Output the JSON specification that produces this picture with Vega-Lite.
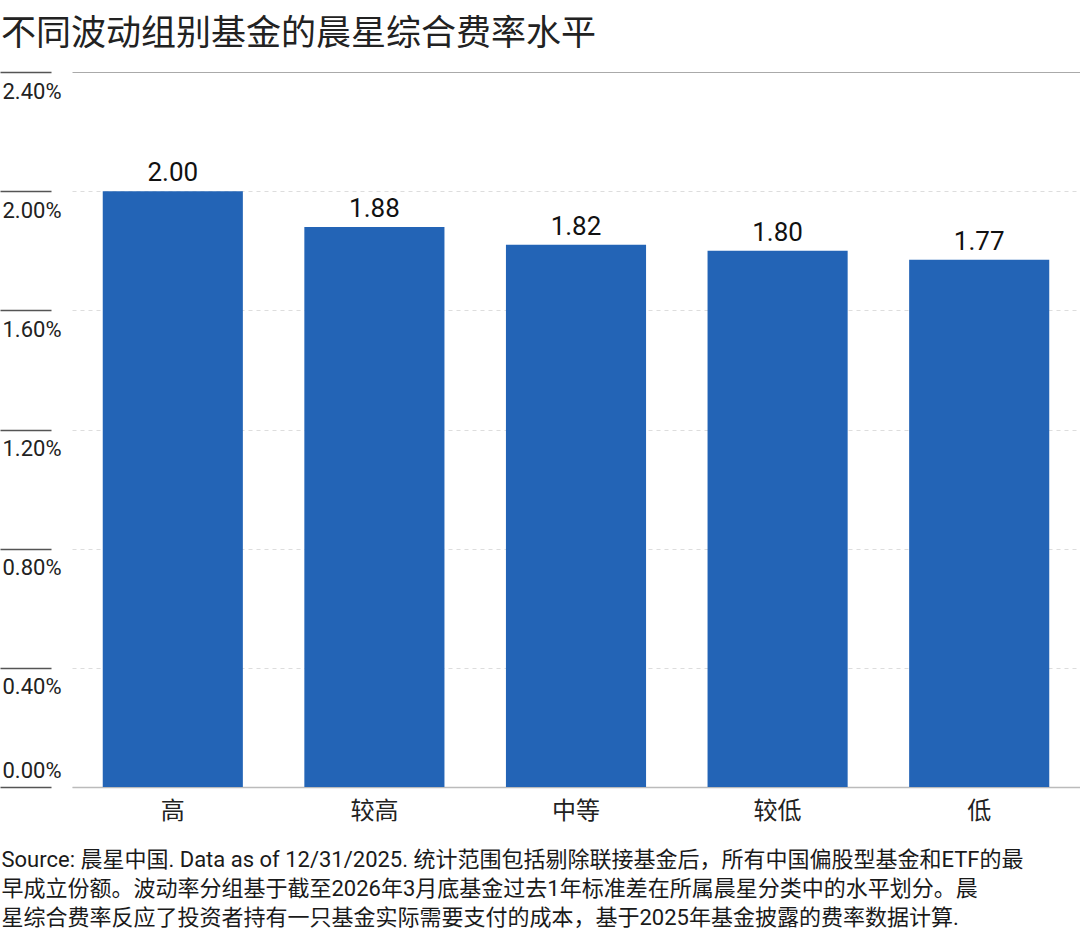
{
  "$schema": "https://vega.github.io/schema/vega-lite/v6.json",
  "width": 1008,
  "height": 715,
  "autosize": {"type": "none"},
  "padding": {"left": 72, "top": 72, "right": 0, "bottom": 155},
  "background": "white",
  "config": {
    "view": {"stroke": null},
    "font": "Roboto, Noto Sans CJK SC"
  },
  "title": {
    "text": "不同波动组别基金的晨星综合费率水平",
    "anchor": "start",
    "frame": "group",
    "dx": -71,
    "offset": 19,
    "font": "Noto Sans CJK SC",
    "fontSize": 35,
    "fontWeight": "normal",
    "color": "#222222"
  },
  "data": {
    "values": [
      {"group": "高", "fee": 2.00},
      {"group": "较高", "fee": 1.88},
      {"group": "中等", "fee": 1.82},
      {"group": "较低", "fee": 1.80},
      {"group": "低", "fee": 1.77}
    ]
  },
  "encoding": {
    "x": {
      "field": "group",
      "type": "nominal",
      "sort": null,
      "scale": {"paddingInner": 0.305, "paddingOuter": 0.1525},
      "axis": {
        "title": [
          "Source: 晨星中国. Data as of 12/31/2025. 统计范围包括剔除联接基金后，所有中国偏股型基金和ETF的最",
          "早成立份额。波动率分组基于截至2026年3月底基金过去1年标准差在所属晨星分类中的水平划分。晨",
          "星综合费率反应了投资者持有一只基金实际需要支付的成本，基于2025年基金披露的费率数据计算."
        ],
        "titleX": -71,
        "titleY": 62,
        "titleAlign": "left",
        "titleAnchor": "start",
        "titleBaseline": "top",
        "titleFont": "Roboto, Noto Sans CJK SC",
        "titleFontSize": 22,
        "titleFontWeight": "normal",
        "titleLineHeight": 29,
        "titleColor": "#1a1a1a",
        "labelAngle": 0,
        "labelFont": "Noto Sans CJK SC",
        "labelFontSize": 24,
        "labelColor": "#222222",
        "labelPadding": 12,
        "ticks": false,
        "domainColor": "#bbbbbb",
        "domainWidth": 1.5
      }
    },
    "y": {
      "field": "fee",
      "type": "quantitative",
      "scale": {"domain": [0, 2.4], "nice": false},
      "axis": {
        "title": null,
        "values": [0, 0.4, 0.8, 1.2, 1.6, 2.0, 2.4],
        "labelExpr": "format(datum.value, '.2f') + '%'",
        "offset": 21,
        "domain": false,
        "tickSize": 51,
        "tickColor": "#555555",
        "tickWidth": 1.5,
        "labelAlign": "left",
        "labelBaseline": {"condition": {"test": "datum.value == 0", "value": "bottom"}, "value": "top"},
        "labelPadding": -2,
        "labelOffset": {"condition": {"test": "datum.value == 0", "value": -5}, "value": 9},
        "labelFontSize": 22,
        "labelColor": "#222222",
        "grid": true,
        "gridColor": {"condition": {"test": "datum.value >= 2.4", "value": "#aaaaaa"}, "value": "#dddddd"},
        "gridDash": {"condition": {"test": "datum.value >= 2.4", "value": []}, "value": [4, 4]},
        "gridWidth": 1
      }
    }
  },
  "layer": [
    {
      "mark": {"type": "bar", "color": "#2364b6"}
    },
    {
      "mark": {"type": "text", "baseline": "alphabetic", "dy": -10, "fontSize": 26, "color": "#111111"},
      "encoding": {
        "text": {"field": "fee", "type": "quantitative", "format": ".2f"}
      }
    }
  ]
}
